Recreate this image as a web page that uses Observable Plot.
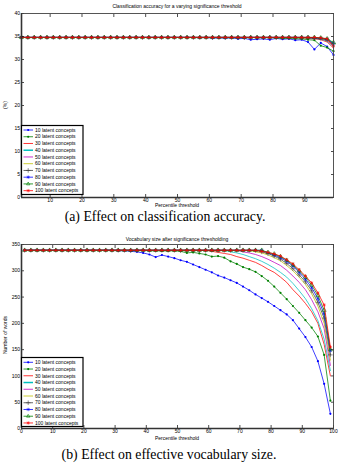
<!DOCTYPE html>
<html><head><meta charset="utf-8">
<script src="https://cdn.jsdelivr.net/npm/d3@7"></script>
<script src="https://cdn.jsdelivr.net/npm/@observablehq/plot@0.6"></script>
<style>
body{margin:0;background:#fff;}
#c{position:relative;width:339px;height:464px;overflow:hidden;background:#fff;}
#c svg{position:absolute;left:0;}
</style></head>
<body><div id="c"></div>
<script>
// Percentile thresholds (x)
const pct = [1,3,5,7,9,11,13,15,17,19,21,23,25,27,29,31,33,35,37,39,41,43,45,47,49,51,53,55,57,59,61,63,65,67,69,71,73,75,77,79,81,83,85,87,89,91,93,95,97,99];

const labels = ["10 latent concepts","20 latent concepts","30 latent concepts","40 latent concepts","50 latent concepts","60 latent concepts","70 latent concepts","80 latent concepts","90 latent concepts","100 latent concepts"];
const colors = ["#0000ff","#008000","#ff0000","#00bfbf","#bf00bf","#bfbf00","#404040","#0000ff","#008000","#ff0000"];
const markers = ["dot","dot","none","none","none","none","plus","asterisk","triangle","asterisk"];

// (a) classification accuracy (%)
const acc10 = [34.8,34.8,34.8,34.8,34.8,34.8,34.8,34.8,34.8,34.8, 34.8,34.8,34.8,34.8,34.8,34.8,34.8,34.8,34.8,34.8, 34.8,34.8,34.8,34.8,34.8,34.8,34.8,34.8, 34.7,34.8,34.6,34.7,34.6,34.7,34.5,34.6,34.3,34.4,34.5,34.3,34.6,34.4,34.5,34.2,34.3,33.8,32.2,33.6,32.8,31.0];
const acc20 = [34.8,34.8,34.8,34.8,34.8,34.8,34.8,34.8,34.8,34.8, 34.8,34.8,34.8,34.8,34.8,34.8,34.8,34.8,34.8,34.8, 34.8,34.8,34.8,34.8,34.8,34.8,34.8,34.8,34.8,34.8, 34.8,34.8,34.8,34.8,34.8,34.8,34.8,34.8,34.8,34.8, 34.7,34.6,34.6,34.5,34.5,34.3,34.2,33.0,32.6,31.8];
const acc30 = [34.8,34.8,34.8,34.8,34.8,34.8,34.8,34.8,34.8,34.8, 34.8,34.8,34.8,34.8,34.8,34.8,34.8,34.8,34.8,34.8, 34.8,34.8,34.8,34.8,34.8,34.8,34.8,34.8,34.8,34.8, 34.8,34.8,34.8,34.8,34.8,34.8,34.8,34.8,34.8,34.8, 34.8,34.8,34.8,34.8, 34.7,34.6,34.5,34.3,33.8,32.5];
const acc40 = [34.8,34.8,34.8,34.8,34.8,34.8,34.8,34.8,34.8,34.8, 34.8,34.8,34.8,34.8,34.8,34.8,34.8,34.8,34.8,34.8, 34.8,34.8,34.8,34.8,34.8,34.8,34.8,34.8,34.8,34.8, 34.8,34.8,34.8,34.8,34.8,34.8,34.8,34.8,34.8,34.8, 34.8,34.8,34.8,34.8,34.8, 34.7,34.6,34.4,34.0,32.8];
const acc50 = [34.8,34.8,34.8,34.8,34.8,34.8,34.8,34.8,34.8,34.8, 34.8,34.8,34.8,34.8,34.8,34.8,34.8,34.8,34.8,34.8, 34.8,34.8,34.8,34.8,34.8,34.8,34.8,34.8,34.8,34.8, 34.8,34.8,34.8,34.8,34.8,34.8,34.8,34.8,34.8,34.8, 34.8,34.8,34.8,34.8,34.8, 34.7,34.6,34.5,34.1,33.0];
const acc60 = [34.8,34.8,34.8,34.8,34.8,34.8,34.8,34.8,34.8,34.8, 34.8,34.8,34.8,34.8,34.8,34.8,34.8,34.8,34.8,34.8, 34.8,34.8,34.8,34.8,34.8,34.8,34.8,34.8,34.8,34.8, 34.8,34.8,34.8,34.8,34.8,34.8,34.8,34.8,34.8,34.8, 34.8,34.8,34.8,34.8,34.8,34.8, 34.7,34.5,34.2,33.2];
const acc70 = [34.8,34.8,34.8,34.8,34.8,34.8,34.8,34.8,34.8,34.8, 34.8,34.8,34.8,34.8,34.8,34.8,34.8,34.8,34.8,34.8, 34.8,34.8,34.8,34.8,34.8,34.8,34.8,34.8,34.8,34.8, 34.8,34.8,34.8,34.8,34.8,34.8,34.8,34.8,34.8,34.8, 34.8,34.8,34.8,34.8,34.8,34.8, 34.7,34.6,34.3,33.4];
const acc80 = [34.8,34.8,34.8,34.8,34.8,34.8,34.8,34.8,34.8,34.8, 34.8,34.8,34.8,34.8,34.8,34.8,34.8,34.8,34.8,34.8, 34.8,34.8,34.8,34.8,34.8,34.8,34.8,34.8,34.8,34.8, 34.8,34.8,34.8,34.8,34.8,34.8,34.8,34.8,34.8,34.8, 34.8,34.8,34.8,34.8,34.8,34.8, 34.7,34.6,34.4,33.5];
const acc90 = [34.8,34.8,34.8,34.8,34.8,34.8,34.8,34.8,34.8,34.8, 34.8,34.8,34.8,34.8,34.8,34.8,34.8,34.8,34.8,34.8, 34.8,34.8,34.8,34.8,34.8,34.8,34.8,34.8,34.8,34.8, 34.8,34.8,34.8,34.8,34.8,34.8,34.8,34.8,34.8,34.8, 34.8,34.8,34.8,34.8,34.8,34.8, 34.8,34.7,34.5,33.7];
const acc100 = [34.8,34.8,34.8,34.8,34.8,34.8,34.8,34.8,34.8,34.8, 34.8,34.8,34.8,34.8,34.8,34.8,34.8,34.8,34.8,34.8, 34.8,34.8,34.8,34.8,34.8,34.8,34.8,34.8,34.8,34.8, 34.8,34.8,34.8,34.8,34.8,34.8,34.8,34.8,34.8,34.8, 34.8,34.8,34.8,34.8,34.8,34.8, 34.8,34.7,34.5,32.9];

// (b) vocabulary size (number of words)
const voc10 = [339,339,339,339,339,339,339,339,339,339, 339,339,339,339,339, 338,338, 337,336,334,331,326,330,327,324,320,317,312,307,302,297,291,287,282,277,270,263,255,248,241,233,225,217,206,190,174,155,128,85,28];
const voc20 = [339,339,339,339,339,339,339,339,339,339, 339,339,339,339,339,339,339,339,339,339, 338,338,338,338,338, 337,334,335,333,331,327,328,325,318,313,307,303,298,290,281,270,258,246,233,220,206,192,175,140,53];
const voc30 = [339,339,339,339,339,339,339,339,339,339, 339,339,339,339,339,339,339,339,339,339, 339,339,339,339,339,339,339,339,339,339, 337,335,333,331,327,324,320,316,310,303,297,288,278,264,252,238,222,200,160,100];
const voc40 = [339,339,339,339,339,339,339,339,339,339, 339,339,339,339,339,339,339,339,339,339, 339,339,339,339,339,339,339,339,339,339, 339,339,339, 336,334,331,327,323,318,312,305,297,288,276,262,247,228,205,170,110];
const voc50 = [339,339,339,339,339,339,339,339,339,339, 339,339,339,339,339,339,339,339,339,339, 339,339,339,339,339,339,339,339,339,339, 339,339,339,339,339, 336,334,331,327,322,316,310,301,290,278,264,245,222,190,120];
const voc60 = [339,339,339,339,339,339,339,339,339,339, 339,339,339,339,339,339,339,339,339,339, 339,339,339,339,339,339,339,339,339,339, 339,339,339,339,339,339,339, 336,334,330,325,319,310,300,288,274,256,233,200,130];
const voc70 = [339,339,339,339,339,339,339,339,339,339, 339,339,339,339,339,339,339,339,339,339, 339,339,339,339,339,339,339,339,339,339, 339,339,339,339,339,339,339,339, 336,333,328,322,314,304,292,279,262,240,210,140];
const voc80 = [339,339,339,339,339,339,339,339,339,339, 339,339,339,339,339,339,339,339,339,339, 339,339,339,339,339,339,339,339,339,339, 339,339,339,339,339,339,339,339,339, 334,330,325,318,309,297,284,268,247,218,148];
const voc90 = [339,339,339,339,339,339,339,339,339,339, 339,339,339,339,339,339,339,339,339,339, 339,339,339,339,339,339,339,339,339,339, 339,339,339,339,339,339,339,339,339, 335,332,327,320,311,300,288,273,253,225,150];
const voc100 = [339,339,339,339,339,339,339,339,339,339, 339,339,339,339,339,339,339,339,339,339, 339,339,339,339,339,339,339,339,339,339, 339,339,339,339,339,339,339,339, 337,335,332,328,321,313,302,290,277,258,235,155];

const accTicksX = [10,20,30,40,50,60,70,80,90];
const accTicksY = [0,5,10,15,20,25,30,35,40];
const vocTicksX = [0,10,20,30,40,50,60,70,80,90,100];
const vocTicksY = [0,50,100,150,200,250,300,350];

const accSeries = [acc10,acc20,acc30,acc40,acc50,acc60,acc70,acc80,acc90,acc100];
const vocSeries = [voc10,voc20,voc30,voc40,voc50,voc60,voc70,voc80,voc90,voc100];

const FONT = "'Liberation Sans', Arial, sans-serif";

function seriesMarks(all) {
  const marks = [];
  all.forEach((vals, k) => {
    const data = pct.map((x, i) => ({x, y: vals[i]}));
    const c = colors[k];
    marks.push(Plot.line(data, {x: "x", y: "y", stroke: c, strokeWidth: 0.75}));
    const m = markers[k];
    if (m === "dot") marks.push(Plot.dot(data, {x: "x", y: "y", r: 1.1, fill: c}));
    else if (m === "plus") marks.push(Plot.dot(data, {x: "x", y: "y", r: 1.6, symbol: "plus", stroke: c, strokeWidth: 0.6}));
    else if (m === "asterisk") marks.push(Plot.dot(data, {x: "x", y: "y", r: 1.6, symbol: "asterisk", stroke: c, strokeWidth: 0.6}));
    else if (m === "triangle") marks.push(Plot.dot(data, {x: "x", y: "y", r: 1.5, symbol: "triangle", stroke: c, fill: "none", strokeWidth: 0.6}));
  });
  return marks;
}

function makePlot(all, xDomain, yDomain, xTicks, yTicks, marginTop, marginBottom) {
  return Plot.plot({
    width: 339, height: 212,
    marginLeft: 21, marginRight: 6, marginTop, marginBottom,
    x: {domain: xDomain},
    y: {domain: yDomain},
    style: {background: "transparent", fontFamily: FONT, fontSize: "5px", color: "#000", overflow: "visible"},
    marks: [
      ...seriesMarks(all),
      Plot.axisX(xTicks, {anchor: "bottom", tickSize: 0, tickPadding: 0.5, label: null, fontSize: 5}),
      Plot.axisX(xTicks, {anchor: "bottom", tickSize: -3, tickFormat: () => "", label: null, strokeWidth: 0.7}),
      Plot.axisX(xTicks, {anchor: "top", tickSize: -3, tickFormat: () => "", label: null, strokeWidth: 0.7}),
      Plot.axisY(yTicks, {anchor: "left", tickSize: 0, tickPadding: 1.5, label: null, fontSize: 5}),
      Plot.axisY(yTicks, {anchor: "left", tickSize: -3, tickFormat: () => "", label: null, strokeWidth: 0.7}),
      Plot.axisY(yTicks, {anchor: "right", tickSize: -3, tickFormat: () => "", label: null, strokeWidth: 0.7}),
      Plot.frame({stroke: "#444", strokeWidth: 0.9}),
      Plot.ruleX([xDomain[0]], {stroke: "#333", strokeWidth: 1.6}),
      Plot.ruleY([yDomain[0]], {stroke: "#333", strokeWidth: 1.6})
    ]
  });
}

const c = document.getElementById("c");
const p1 = makePlot(accSeries, [1, 99], [0, 40], accTicksX, accTicksY, 13, 15);
p1.style.top = "0px";
c.appendChild(p1);
const p2 = makePlot(vocSeries, [0, 100], [0, 350], vocTicksX, vocTicksY, 14, 14);
p2.style.top = "230px";
c.appendChild(p2);

// Overlay: titles, axis labels, legends, captions
const ov = d3.create("svg").attr("width", 339).attr("height", 464)
  .style("top", "0px").style("font-family", FONT);
function txt(x, y, s, size, anchor = "middle", rot = 0, family = FONT) {
  const t = ov.append("text").attr("x", x).attr("y", y).attr("font-size", size)
    .attr("text-anchor", anchor).attr("font-family", family).attr("fill", "#000").text(s);
  if (rot) t.attr("transform", `rotate(${rot},${x},${y})`);
  return t;
}
txt(177, 8, "Classification accuracy for a varying significance threshold", 5);
txt(177, 206.8, "Percentile threshold", 5);
txt(6.5, 105, "(%)", 5, "middle", -90);
txt(165, 220.8, "(a) Effect on classification accuracy.", 13.8, "middle", 0, "'Liberation Serif', 'Times New Roman', serif");

txt(177, 240.5, "Vocabulary size after significance thresholding", 5);
txt(177, 439.5, "Percentile threshold", 5);
txt(6.5, 335, "Number of words", 5, "middle", -90);
txt(169, 458.5, "(b) Effect on effective vocabulary size.", 13.8, "middle", 0, "'Liberation Serif', 'Times New Roman', serif");

function legend(top, firstRow) {
  ov.append("rect").attr("x", 21.5).attr("y", top).attr("width", 61.5).attr("height", 69)
    .attr("fill", "#fff").attr("stroke", "#000").attr("stroke-width", 1.2);
  labels.forEach((lab, k) => {
    const y = firstRow + k * 6.74;
    ov.append("line").attr("x1", 23.5).attr("x2", 33).attr("y1", y).attr("y2", y)
      .attr("stroke", colors[k]).attr("stroke-width", k === 3 ? 1.5 : 0.8);
    const m = markers[k];
    if (m === "dot") ov.append("circle").attr("cx", 28.2).attr("cy", y).attr("r", 1.1).attr("fill", colors[k]);
    else if (m !== "none") {
      const sym = m === "plus" ? d3.symbolPlus : m === "asterisk" ? d3.symbolAsterisk : d3.symbolTriangle2;
      ov.append("path").attr("d", d3.symbol(sym, 1.6 * 1.6 * Math.PI)())
        .attr("transform", `translate(28.2,${y})`).attr("fill", "none")
        .attr("stroke", colors[k]).attr("stroke-width", 0.6);
    }
    txt(35, y + 1.75, lab, 5, "start");
  });
}
legend(125.5, 130);
legend(357.5, 362.3);

c.appendChild(ov.node());
</script>
</body></html>
